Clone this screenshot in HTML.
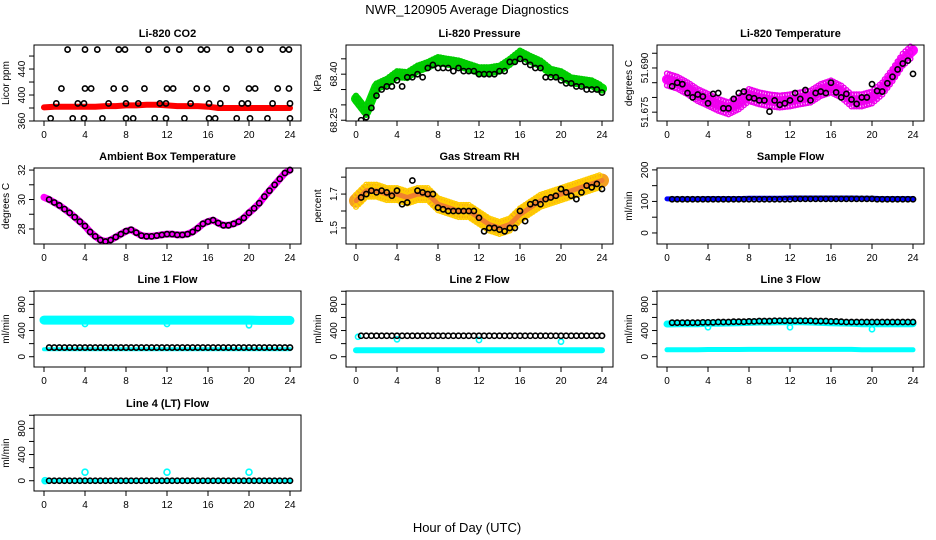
<!DOCTYPE html>
<html><head><meta charset="utf-8"><style>
html,body{margin:0;padding:0;background:#fff}
svg{display:block;font-family:"Liberation Sans",Arial,sans-serif}
</style></head><body>
<svg id="chart" width="936" height="540" viewBox="0 0 936 540">
<text x="467" y="14" font-size="13" text-anchor="middle">NWR_120905  Average Diagnostics</text>
<text x="467" y="532" font-size="13" text-anchor="middle">Hour of Day (UTC)</text>
</svg>
<script>
// ---------- data ----------
const xTicks = [0,4,8,12,16,20,24];
// CO2
const co2Band = [381,382,382,382,382,382,383,383,384,384,385,385,384,383,383,383,382,380,380,380,380,380,380,380,380];
const co2HighHours = [2.3,4.0,5.2,7.3,7.9,10.2,12.0,13.2,15.3,15.9,18.2,20.0,21.1,23.3,23.9];
const co2HighVals = [470,470,470,470,470,470,470,470,470,470,470,470,470,470,470];
const co2MidHours = [1.7,4.0,4.6,6.8,7.9,9.8,12.0,12.6,14.9,15.9,17.8,20.0,20.6,22.8,23.9];
const co2MidVals = [410,410,410,410,410,410,410,410,410,410,410,410,410,410,410];
const co2LowHours = [1.2,3.3,3.9,6.3,8.0,9.2,11.3,11.9,14.3,16.1,17.2,19.3,19.9,22.3,24.0];
const co2LowVals = [387,387,387,387,387,387,387,387,387,387,387,387,387,387,387];
const co2BotHours = [0.65,2.8,3.9,5.7,8.0,8.7,10.8,11.9,13.7,16.1,16.7,18.8,20.1,21.8,24.0];
const co2BotVals = [364,364,364,364,364,364,364,364,364,364,364,364,364,364,364];
// Pressure
const presBand = [68.32,68.277,68.36,68.375,68.40,68.397,68.418,68.43,68.446,68.44,68.435,68.424,68.413,68.413,68.418,68.44,68.467,68.45,68.435,68.408,68.40,68.38,68.375,68.37,68.353];
const presBlack = [68.25,68.26,68.29,68.33,68.35,68.36,68.36,68.38,68.36,68.39,68.39,68.40,68.39,68.42,68.43,68.42,68.42,68.42,68.41,68.42,68.41,68.41,68.41,68.40,68.40,68.40,68.40,68.41,68.41,68.44,68.44,68.45,68.44,68.43,68.42,68.42,68.39,68.39,68.39,68.38,68.37,68.37,68.36,68.36,68.35,68.35,68.35,68.34];
// Li-820 temperature
const tempBand = [51.6861,51.685,51.6831,51.6808,51.6792,51.6775,51.6763,51.678,51.6808,51.6797,51.679,51.6786,51.679,51.6797,51.6803,51.6825,51.6837,51.682,51.679,51.679,51.68,51.683,51.6876,51.6928,51.696];
const tempBlack = [51.6838,51.6850,51.6845,51.6815,51.6800,51.6810,51.6803,51.6780,51.6812,51.6815,51.6763,51.6763,51.6795,51.6815,51.6820,51.6800,51.6797,51.6790,51.6790,51.6752,51.6790,51.6775,51.6780,51.6790,51.6815,51.6795,51.6825,51.6790,51.6815,51.6820,51.6815,51.6850,51.6817,51.6800,51.6812,51.6793,51.6778,51.6800,51.6800,51.6845,51.6822,51.6820,51.6848,51.6870,51.6895,51.6915,51.6925,51.6880];
// Ambient box temperature (half-hourly 0..24)
const ambBand = [30.15,30.0,29.8,29.6,29.35,29.1,28.8,28.5,28.2,27.8,27.5,27.25,27.15,27.25,27.45,27.65,27.85,27.95,27.75,27.55,27.5,27.5,27.55,27.6,27.65,27.65,27.6,27.6,27.65,27.8,28.05,28.35,28.5,28.6,28.4,28.25,28.25,28.35,28.5,28.75,29.1,29.4,29.75,30.2,30.6,31.0,31.4,31.8,32.0];
// RH
const rhBand = [1.66,1.72,1.72,1.70,1.70,1.68,1.70,1.70,1.64,1.62,1.60,1.60,1.56,1.52,1.50,1.52,1.58,1.62,1.66,1.68,1.70,1.72,1.74,1.76,1.78];
const rhBlack = [1.68,1.70,1.72,1.71,1.72,1.71,1.69,1.72,1.64,1.65,1.78,1.72,1.71,1.70,1.70,1.62,1.61,1.60,1.60,1.60,1.60,1.60,1.60,1.56,1.48,1.50,1.50,1.49,1.48,1.50,1.50,1.60,1.54,1.64,1.65,1.64,1.67,1.68,1.69,1.73,1.71,1.69,1.67,1.71,1.75,1.74,1.76,1.73];
// Sample flow
const sampleBand = [108,108,108,108,109,109,109,109,110,110,110,110,111,111,111,111,111,111,111,110,110,109,109,109,109];
const sampleBlack = [107,107,107,107,107,107,107,107,107,107,107,107,107,107,107,107,107,107,107,107,107,107,107,107,108,108,108,108,108,108,108,108,108,108,108,108,108,108,108,108,107,107,107,107,107,107,107,107];
// Line flows
const line1Upper = [560,560,560,560,560,560,560,560,560,560,560,560,560,560,560,560,560,560,560,560,560,555,555,555,555];
const line1Lower = [115,115,115,115,115,115,115,115,115,115,115,115,115,115,115,115,115,115,115,115,115,115,115,115,115];
const line1DipHours = [4,12,20];
const line1DipVals = [500,500,480];
const line1Black = [140,140,140,140,140,140,140,140,140,140,140,140,140,140,140,140,140,140,140,140,140,140,140,140,140,140,140,140,140,140,140,140,140,140,140,140,140,140,140,140,140,140,140,140,140,140,140,140];
const line2Lower = [100,100,100,100,100,100,100,100,100,100,100,100,100,100,100,100,100,100,100,100,100,100,100,100,100];
const line2OutHours = [0.2,4,12,20];
const line2OutVals = [305,265,255,230];
const line2Black = [320,320,320,320,320,320,320,320,320,320,320,320,320,320,320,320,320,320,320,320,320,320,320,320,320,320,320,320,320,320,320,320,320,320,320,320,320,320,320,320,320,320,320,320,320,320,320,320];
const line3Upper = [500,505,505,505,510,510,515,520,525,530,530,535,535,535,530,525,520,515,510,505,505,505,505,505,505];
const line3Lower = [105,105,105,105,110,110,110,110,112,112,112,112,112,112,112,112,112,112,112,108,105,105,105,105,105];
const line3DipHours = [4,12,20];
const line3DipVals = [450,450,420];
const line3Black = [520,520,520,520,520,520,525,525,525,530,530,530,535,535,535,540,540,545,545,545,550,550,550,550,550,550,550,550,545,545,545,540,540,535,530,530,530,530,530,530,530,530,530,530,530,530,530,530];
const line4Band = [0,0,0,0,0,0,0,0,0,0,0,0,0,0,0,0,0,0,0,0,0,0,0,0,0];
const line4OutHours = [0.1,4,12,20];
const line4OutVals = [0,130,130,130];
const line4Black = [0,0,0,0,0,0,0,0,0,0,0,0,0,0,0,0,0,0,0,0,0,0,0,0,0,0,0,0,0,0,0,0,0,0,0,0,0,0,0,0,0,0,0,0,0,0,0,0];

// ---------- drawing ----------
const NS = "http://www.w3.org/2000/svg";
const svg = document.getElementById("chart");
function mk(tag, attrs, parent){ const e=document.createElementNS(NS,tag); for(const k in attrs) e.setAttribute(k,attrs[k]); (parent||svg).appendChild(e); return e; }
const colLeft=[34,346,657], rowTop=[45,168,291,415];
function panel(col,row,title,ylab,ymin,ymax,yticks,ylabels,name){
  const L=colLeft[col], T=rowTop[row], W=267, H=76;
  const g=mk("g",{});
  
  
  const sx=h=>L+10+h*246/24;
  const sy=v=>T+H-(v-ymin)/(ymax-ymin)*H;
  const t=mk("text",{x:L+W/2,y:T-8,"font-size":11,"font-weight":"bold","text-anchor":"middle"},g); t.textContent=title;
  
  
  const yt=mk("text",{x:0,y:0,"font-size":10,"text-anchor":"middle",transform:`translate(${L-25},${T+H/2}) rotate(-90)`},g); yt.textContent=ylab;
  
  
  xTicks.forEach(h=>{
    mk("line",{x1:sx(h),x2:sx(h),y1:T+H,y2:T+H+5,stroke:"#000"},g);
    const tx=mk("text",{x:sx(h),y:T+H+17,"font-size":10,"text-anchor":"middle"},g); tx.textContent=h;
    
    
  });
  yticks.forEach((v,i)=>{
    mk("line",{x1:L-5,x2:L,y1:sy(v),y2:sy(v),stroke:"#000"},g);
    if(ylabels[i]!==""){
      const ty=mk("text",{x:0,y:0,"font-size":10,"text-anchor":"middle",transform:`translate(${L-9},${sy(v)}) rotate(-90)`},g); ty.textContent=ylabels[i];
      
      
    }
  });
  const clip="clip"+col+row;
  const cp=mk("clipPath",{id:clip},g); mk("rect",{x:L,y:T-6,width:W,height:H+6},cp);
  const plot=mk("g",{"clip-path":`url(#${clip})`},g);
  const box=mk("rect",{x:L,y:T,width:W,height:H,fill:"none",stroke:"#000","stroke-width":1},g);
  
  
  return {sx,sy,plot};
}
function band(p,vals,step,color,width,name){
  const pts=vals.map((v,i)=>p.sx(i*step).toFixed(1)+","+p.sy(v).toFixed(1)).join(" ");
  const e=mk("polyline",{points:pts,fill:"none",stroke:color,"stroke-width":width,"stroke-linejoin":"round","stroke-linecap":"round"},p.plot);
  
  
}
function pts(p,hours,vals,color,name,r){
  vals.forEach((v,i)=>{
    const c=mk("circle",{cx:p.sx(hours?hours[i]:(i+1)*0.5),cy:p.sy(v),r:r||2.6,fill:"none",stroke:color,"stroke-width":1.6},p.plot);
    
    
  });
}
function dotsAlong(p,vals,step,color,spread,name){
  vals.forEach((v,i)=>{ if(i===vals.length-1) return;
    for(let k=0;k<4;k++){
      const h=(i+k/4)*step, vv=v+(vals[i+1]-v)*k/4;
      [-spread,0,spread].forEach(o=>{
        const c=mk("circle",{cx:p.sx(h),cy:p.sy(vv)+o,r:2.4,fill:"none",stroke:color,"stroke-width":1.4},p.plot);
        
        
      });
    }
  });
}
// CO2
let p=panel(0,0,"Li-820 CO2","Licor ppm",360,477,[360,380,400,420,440,460],["360","","400","","440",""],"co2");
band(p,co2Band,1,"#ff0000",6,"co2-band");
pts(p,co2HighHours,co2HighVals,"#000","co2-point");
pts(p,co2MidHours,co2MidVals,"#000","co2-point");
pts(p,co2LowHours,co2LowVals,"#000","co2-point");
pts(p,co2BotHours,co2BotVals,"#000","co2-point");
// Pressure
p=panel(1,0,"Li-820 Pressure","kPa",68.2475,68.495,[68.25,68.30,68.35,68.40,68.45],["68.25","","","68.40",""],"pressure");
band(p,presBand,1,"#00dd00",10,"pressure-band");
dotsAlong(p,presBand,1,"#00cc00",3,"pressure-sample");
pts(p,null,presBlack,"#000","pressure-point");
// Temp
p=panel(2,0,"Li-820 Temperature","degrees C",51.672,51.6978,[51.675,51.680,51.685,51.690,51.695],["51.675","","","51.690",""],"li820-temp");
band(p,tempBand,1,"#ff00ff",10,"temp-band");
dotsAlong(p,tempBand,1,"#ee00ee",6,"temp-sample");
pts(p,null,tempBlack,"#000","temp-point");
// Ambient
p=panel(0,1,"Ambient Box Temperature","degrees C",26.98,32.14,[28,29,30,31,32],["28","","30","","32"],"ambient");
band(p,ambBand,0.5,"#ff00ff",7,"ambient-band");
pts(p,null,ambBand.slice(1),"#000","ambient-point");
// RH
p=panel(1,1,"Gas Stream RH","percent",1.405,1.854,[1.5,1.6,1.7,1.8],["1.5","","1.7",""],"rh");
band(p,rhBand,1,"#f4a020",14,"rh-band");
dotsAlong(p,rhBand,1,"#ffcc00",6,"rh-sample");
band(p,rhBand,1,"#f08030",5,"rh-band-core");
pts(p,null,rhBlack,"#000","rh-point");
// Sample flow
p=panel(2,1,"Sample Flow","ml/min",-35,206,[0,50,100,150,200],["0","","100","","200"],"sample-flow");
band(p,sampleBand,1,"#0000ff",5,"sample-band");
pts(p,null,sampleBlack,"#000","sample-point");
const flowTicks=[0,200,400,600,800,1000], flowLabels=["0","","400","","800",""];
// Line1
p=panel(0,2,"Line 1 Flow","ml/min",-157,1004,flowTicks,flowLabels,"line1");
band(p,line1Upper,1,"#00ffff",9,"line1-upper-band");
band(p,line1Lower,1,"#00ffff",4,"line1-lower-band");
pts(p,line1DipHours,line1DipVals,"#00ffff","line1-dip");
pts(p,null,line1Black,"#000","line1-point");
// Line2
p=panel(1,2,"Line 2 Flow","ml/min",-157,1004,flowTicks,flowLabels,"line2");
band(p,line2Lower,1,"#00ffff",6,"line2-lower-band");
pts(p,line2OutHours,line2OutVals,"#00ffff","line2-outlier");
pts(p,null,line2Black,"#000","line2-point");
// Line3
p=panel(2,2,"Line 3 Flow","ml/min",-157,1004,flowTicks,flowLabels,"line3");
band(p,line3Upper,1,"#00ffff",7,"line3-upper-band");
band(p,line3Lower,1,"#00ffff",5,"line3-lower-band");
pts(p,line3DipHours,line3DipVals,"#00ffff","line3-dip");
pts(p,null,line3Black,"#000","line3-point");
// Line4
p=panel(0,3,"Line 4 (LT) Flow","ml/min",-157,1004,flowTicks,flowLabels,"line4");
band(p,line4Band,1,"#00ffff",4,"line4-band");
pts(p,line4OutHours,line4OutVals,"#00ffff","line4-outlier",3);
pts(p,null,line4Black,"#000","line4-point");
</script>
</body></html>
